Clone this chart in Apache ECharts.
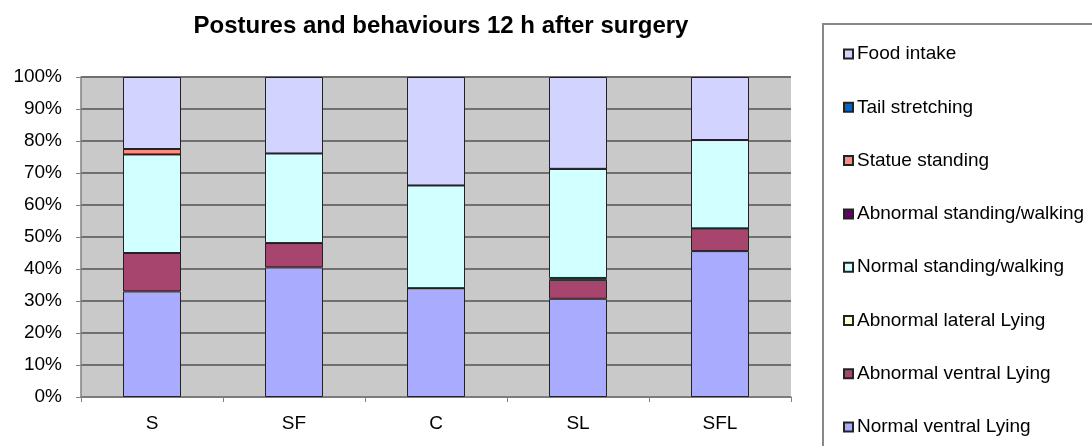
<!DOCTYPE html>
<html><head><meta charset="utf-8">
<script src="https://cdn.jsdelivr.net/npm/echarts@6/dist/echarts.min.js"></script>
<style>html,body{margin:0;padding:0;background:#fff}#c{width:1092px;height:446px}</style>
</head><body><div id="c"></div>
<script>
const categories = ['S','SF','C','SL','SFL'];
const normalVentralLying     = [33.0, 40.5, 34.0, 30.7, 45.6];
const abnormalVentralLying   = [12.0, 7.6, 0, 5.9, 7.1];
const abnormalLateralLying   = [0, 0, 0, 0.6, 0];
const normalStandingWalking  = [30.8, 28.0, 32.1, 34.1, 27.6];
const abnormalStandingWalking= [0, 0, 0, 0, 0];
const statueStanding         = [1.7, 0, 0, 0, 0];
const tailStretching         = [0, 0, 0, 0, 0];
const foodIntake             = [22.5, 23.9, 33.9, 28.7, 19.7];
const yTicks = [0,10,20,30,40,50,60,70,80,90,100];

const seriesDefs = [
  ['Normal ventral Lying', normalVentralLying, '#A9ABFF'],
  ['Abnormal ventral Lying', abnormalVentralLying, '#A8456F'],
  ['Abnormal lateral Lying', abnormalLateralLying, '#FFFFCC'],
  ['Normal standing/walking', normalStandingWalking, '#D2FFFF'],
  ['Abnormal standing/walking', abnormalStandingWalking, '#660066'],
  ['Statue standing', statueStanding, '#FF8A80'],
  ['Tail stretching', tailStretching, '#0066CC'],
  ['Food intake', foodIntake, '#D2D3FF']
];
const font = '"Liberation Sans", Arial, sans-serif';
const chart = echarts.init(document.getElementById('c'));
chart.setOption({
  animation: false,
  title: {text: 'Postures and behaviours 12 h after surgery', left: 441, textAlign: 'center', top: 14, padding: 0,
    textStyle: {fontFamily: font, fontWeight: 'bold', fontSize: 24, color: '#000'}},
  graphic: [{type: 'rect', shape: {x: 823, y: 24, width: 400, height: 500}, style: {fill: 'none', stroke: '#888', lineWidth: 2}, z: -1}],
  legend: {orient: 'vertical', left: 843, top: 44, padding: 0, itemWidth: 9, itemHeight: 9, itemGap: 33.3,
    icon: 'rect', data: seriesDefs.map(s => s[0]).reverse(),
    textStyle: {fontFamily: font, fontSize: 19, color: '#000', lineHeight: 20, padding: [0,0,0,-1]}},
  grid: {left: 81, top: 77, width: 710, height: 320, show: true, backgroundColor: '#C9C9C9', borderWidth: 0},
  xAxis: {type: 'category', data: categories,
    axisLine: {lineStyle: {color: '#808080', width: 1.5}},
    axisTick: {show: true, length: 5, lineStyle: {color: '#808080'}},
    axisLabel: {fontFamily: font, fontSize: 19, color: '#000', margin: 17}},
  yAxis: {type: 'value', min: 0, max: 100, interval: 10,
    axisLine: {show: true, lineStyle: {color: '#808080', width: 1.5}},
    axisTick: {show: true, length: 5, lineStyle: {color: '#808080'}},
    splitLine: {lineStyle: {color: '#707070', width: 2}},
    axisLabel: {fontFamily: font, fontSize: 19, color: '#000', margin: 19,
      formatter: v => yTicks.includes(v) ? v + '%' : ''}},
  series: seriesDefs.map(([name, data, color]) => ({
    name, type: 'bar', stack: 'all', data, barWidth: 58,
    itemStyle: {color, borderColor: '#222', borderWidth: 1}
  }))
});
</script></body></html>
